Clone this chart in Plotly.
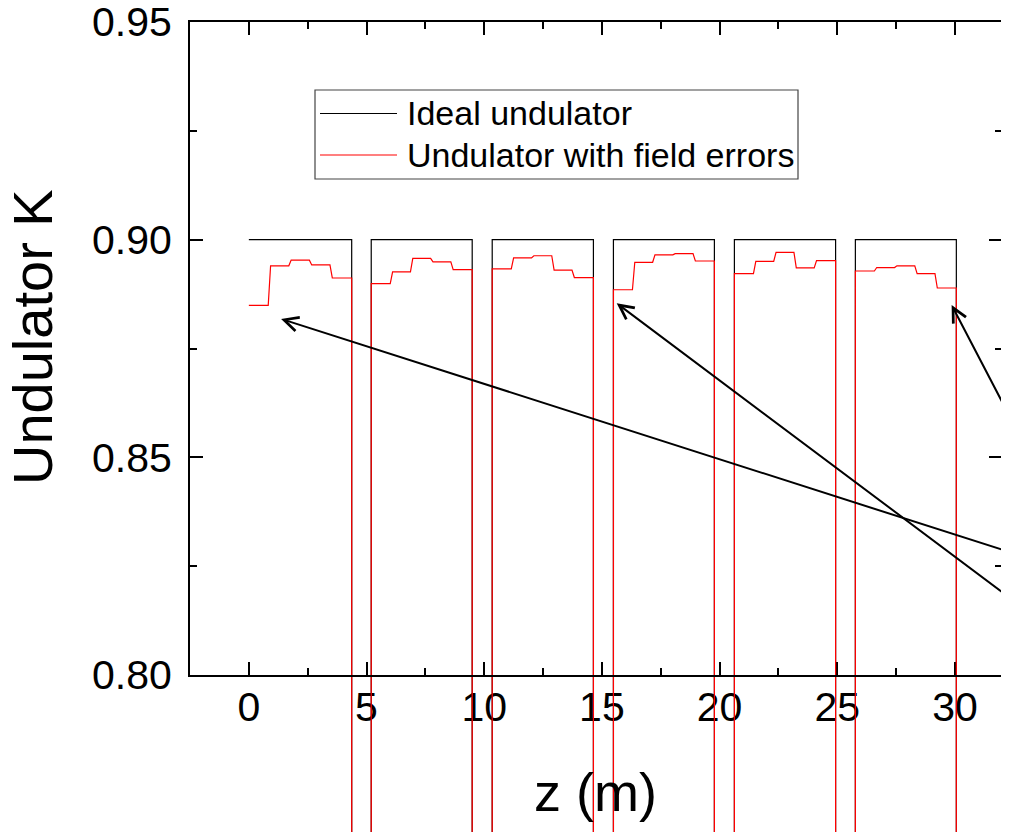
import plotly.graph_objects as go

# ---------------- data ----------------
# undulator segment limits along z (m)
und_start = [0.0, 5.20, 10.34, 15.49, 20.63, 25.77]
und_end = [4.37, 9.49, 14.64, 19.78, 24.93, 30.06]
K_ideal = 0.90          # ideal undulator K
K_gap = 0.0             # K in the drift sections
# K with field errors: 5 sections per undulator
K_err_1 = [0.8849, 0.8940, 0.8953, 0.8942, 0.8912]
K_err_2 = [0.8899, 0.8926, 0.8957, 0.8949, 0.8931]
K_err_3 = [0.8933, 0.8958, 0.8963, 0.8930, 0.8913]
K_err_4 = [0.8885, 0.8948, 0.8965, 0.8968, 0.8951]
K_err_5 = [0.8922, 0.8950, 0.8971, 0.8935, 0.8952]
K_err_6 = [0.8928, 0.8936, 0.8940, 0.8922, 0.8889]
K_err = [K_err_1, K_err_2, K_err_3, K_err_4, K_err_5, K_err_6]
step_ramp = 0.1         # length of transition between sections (m)

# arrows (head on the curve, tail off to the right)
arrow_head_z = [1.37, 15.63, 29.86]
arrow_head_k = [0.8818, 0.8854, 0.8850]
arrow_tail_z = [36.16, 36.16, 36.16]
arrow_tail_k = [0.8216, 0.8022, 0.8196]

x_ticks = [0, 5, 10, 15, 20, 25, 30]
y_ticks = [0.80, 0.85, 0.90, 0.95]

# ---------------- build step curves ----------------
z_id, k_id = [], []
for i, (s, e) in enumerate(zip(und_start, und_end)):
    if i > 0:
        z_id.append(s); k_id.append(K_gap)
    z_id += [s, e, e]
    k_id += [K_ideal, K_ideal, K_gap]

z_er, k_er = [], []
for i, (s, e, ks) in enumerate(zip(und_start, und_end, K_err)):
    n = len(ks)
    L = (e - s) / n
    if i > 0:
        z_er.append(s); k_er.append(K_gap)
    for j, kv in enumerate(ks):
        a = s + j * L + (step_ramp / 2 if j > 0 else 0)
        b = s + (j + 1) * L - (step_ramp / 2 if j < n - 1 else 0)
        z_er += [a, b]
        k_er += [kv, kv]
    z_er.append(e); k_er.append(K_gap)

# ---------------- figure geometry ----------------
VIEW_W, VIEW_H = 1009, 832
OFF = 8                      # page body margin in the browser
W, H = VIEW_W - OFF, VIEW_H - OFF   # figure fits the window without scrolling
FONT = "Liberation Sans, Arial, sans-serif"
EPS = 1e-6
LW = 2


def fp(p_view):
    """screen pixel -> figure pixel"""
    return p_view - OFF


ML = fp(190)
MT = fp(22)
MR = W - fp(1002)
MB = 0
PW, PH = W - ML - MR, H - MT - MB

y_lo_vis = 0.80
y_hi = 0.95
axis_bottom = fp(675)
px_per_unit = (axis_bottom - MT) / (y_hi - y_lo_vis)
y2_lo = y_lo_vis - (H - MB - axis_bottom) / px_per_unit
y_dom0 = (H - MB - axis_bottom) / PH


def px_x(p):
    return (fp(p) - ML) / PW


def px_y(p):
    return (H - MB - fp(p)) / PH


fig = go.Figure()
# empty trace so that the framed (x, y) subplot with the visible axes exists
fig.add_trace(go.Scatter(x=[None], y=[None], mode="lines", xaxis="x",
                         yaxis="y", showlegend=False, hoverinfo="skip"))
fig.add_trace(go.Scatter(x=z_id, y=k_id, mode="lines", name="Ideal undulator",
                         line=dict(color="black", width=1.2), xaxis="x",
                         yaxis="y2", showlegend=False))
fig.add_trace(go.Scatter(x=z_er, y=k_er, mode="lines",
                         name="Undulator with field errors",
                         line=dict(color="#ff0000", width=1.2), xaxis="x",
                         yaxis="y2", showlegend=False))

axis_common = dict(showline=True, linewidth=LW, linecolor="black",
                   mirror="ticks",
                   ticks="inside", ticklen=13, tickwidth=2, tickcolor="black",
                   showgrid=False, zeroline=False, automargin=False,
                   ticklabeloverflow="allow",
                   tickfont=dict(family=FONT, size=41, color="black"))

fig.update_layout(
    width=W, height=H, autosize=False,
    margin=dict(l=ML, r=MR, t=MT, b=MB, pad=0),
    paper_bgcolor="white", plot_bgcolor="rgba(0,0,0,0)",
    showlegend=False,
    xaxis=dict(domain=[0, 1], range=[-2.5, 32], anchor="y",
               tickvals=x_ticks, ticklabelstandoff=-5,
               minor=dict(ticks="inside", ticklen=7, tickwidth=2, dtick=2.5,
                          tick0=0, tickcolor="black"),
               **axis_common),
    yaxis=dict(domain=[y_dom0, 1], range=[y_lo_vis - EPS, y_hi + EPS],
               anchor="x",
               tickvals=y_ticks, tickformat=".2f", ticklabelstandoff=8,
               minor=dict(ticks="inside", ticklen=7, tickwidth=2, dtick=0.025,
                          tick0=0.8, tickcolor="black"),
               **axis_common),
    yaxis2=dict(domain=[0, 1], range=[y2_lo, y_hi], anchor="x", visible=False,
                showgrid=False, zeroline=False),
)

# frame of the plotting box, on top of the axis lines (paper coords, unclipped)
half = LW / 2
fig.add_shape(type="rect", xref="paper", yref="paper",
              x0=-half / PW, x1=1 + half / PW,
              y0=y_dom0 - half / PH, y1=1 + half / PH,
              line=dict(color="black", width=LW), layer="above")

# arrows
for hz, hk, tz, tk in zip(arrow_head_z, arrow_head_k, arrow_tail_z, arrow_tail_k):
    fig.add_annotation(x=hz, y=hk, xref="x", yref="y2", ax=tz, ay=tk,
                       axref="x", ayref="y2", text="", showarrow=True,
                       arrowhead=5, arrowsize=1.4, arrowwidth=2,
                       arrowcolor="black", standoff=0)

# axis titles
fig.add_annotation(x=px_x(595), y=px_y(792), xref="paper", yref="paper",
                   text="z (m)", showarrow=False, xanchor="center",
                   yanchor="middle",
                   font=dict(family=FONT, size=54, color="black"))
fig.add_annotation(x=px_x(33), y=px_y(337), xref="paper", yref="paper",
                   text="Undulator K", showarrow=False, textangle=-90,
                   xanchor="center", yanchor="middle",
                   font=dict(family=FONT, size=56, color="black"))

# legend box
fig.add_shape(type="rect", xref="paper", yref="paper",
              x0=px_x(315), x1=px_x(798), y0=px_y(179), y1=px_y(90),
              line=dict(color="#444444", width=1.2), fillcolor="white",
              layer="above")
leg_names = ["Ideal undulator", "Undulator with field errors"]
leg_colors = ["black", "#ff0000"]
leg_rows = [113.5, 155]
for nm, col, row in zip(leg_names, leg_colors, leg_rows):
    fig.add_shape(type="line", xref="paper", yref="paper",
                  x0=px_x(320), x1=px_x(397), y0=px_y(row), y1=px_y(row),
                  line=dict(color=col, width=1.2), layer="above")
    fig.add_annotation(x=px_x(405), y=px_y(row), xref="paper", yref="paper",
                       text=nm, showarrow=False, xanchor="left",
                       yanchor="middle",
                       font=dict(family=FONT, size=34, color="black"))

fig.write_html("out.html")
